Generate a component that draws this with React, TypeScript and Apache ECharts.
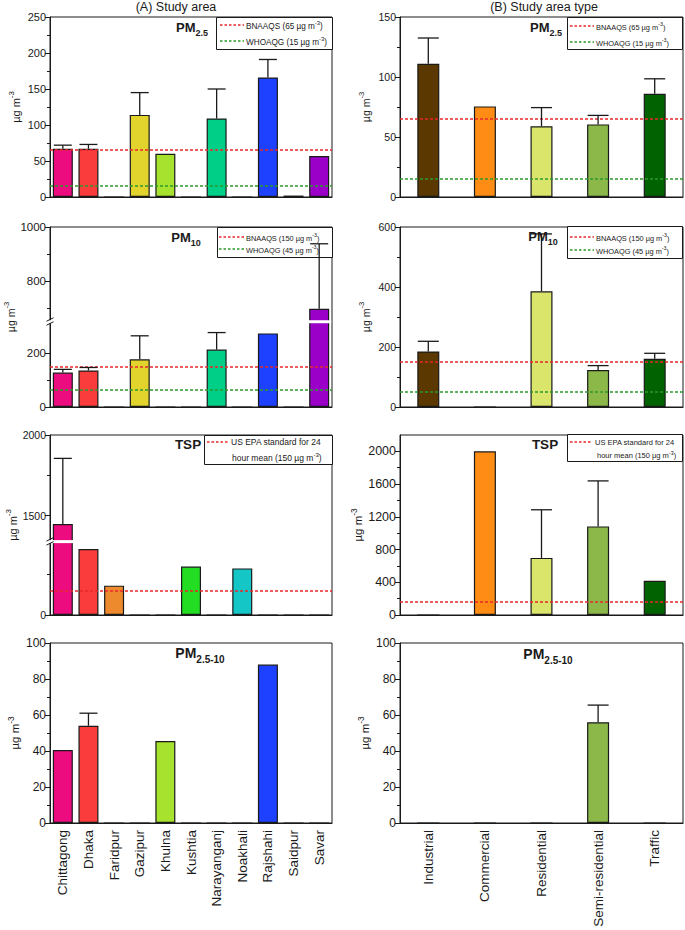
import React, { useEffect, useRef } from 'react';
import * as echarts from 'echarts';

const FONT = "'Liberation Sans', Arial, Helvetica, sans-serif";
const INK = '#1a1a1a';
const RED = '#e8272b';
const GREEN = '#2b9a2b';

// ---------- categories ----------
const cities = ['Chittagong', 'Dhaka', 'Faridpur', 'Gazipur', 'Khulna', 'Kushtia', 'Narayanganj', 'Noakhali', 'Rajshahi', 'Saidpur', 'Savar'];
const areaTypes = ['Industrial', 'Commercial', 'Residential', 'Semi-residential', 'Traffic'];

const cityColors = ['#EC0C80', '#FA3C3C', '#EE8A2E', '#E2D42C', '#A6E22E', '#22DD22', '#00CF88', '#14C6C6', '#1E40FF', '#2A2A2A', '#9A00C8'];
const typeColors = ['#5B3800', '#FF8C14', '#DAE56C', '#8CB84A', '#006200'];

// ---------- (A) study area: means and upper error ----------
const pm25Area = [67, 67, 0, 114, 60, 0, 109, 0, 166, 2, 57];
const pm25AreaErr = [5, 6, null, 31, null, null, 41, null, 25, null, null];
const pm10Area = [127, 135, 0, 176, 0, 0, 212, 0, 272, 0, 698];
const pm10AreaErr = [12, 11, null, 87, null, null, 63, null, null, null, 240];
const tspArea = [1448, 409, 182, 0, 0, 300, 0, 289, 0, 0, 0];
const tspAreaErr = [407, null, null, null, null, null, null, null, null, null, null];
const pmcArea = [40.5, 54, 0, 0, 45.5, 0, 0, 0, 88, 0, 0];
const pmcAreaErr = [null, 7, null, null, null, null, null, null, null, null, null];

// ---------- (B) study area type ----------
const pm25Type = [111, 75.5, 59, 60.5, 86];
const pm25TypeErr = [21.5, null, 15.5, 7.5, 12.5];
const pm10Type = [185, 0, 386, 123, 161];
const pm10TypeErr = [34, null, 191, 15, 18];
const tspType = [0, 2000, 698, 1083, 418];
const tspTypeErr = [null, null, 588, 556, null];
const pmcType = [0, 0, 0, 56, 0];
const pmcTypeErr = [null, null, null, 9.5, null];

// ---------- guideline values (as drawn) ----------
const pm25Guides = [65, 15];
const pm10AreaGuides = [150, 65];
const pm10TypeGuides = [150, 52];
const tspAreaGuides = [150];
const tspTypeGuides = [160];

// ---------- tick labels ----------
const pm25AreaTicks = [0, 50, 100, 150, 200, 250];
const pm25AreaMinor = [25, 75, 125, 175, 225];
const pm10AreaTicks = [0, 200, 800, 1000];
const pm10AreaMinor = [100, 700, 900];
const tspAreaTicks = [0, 1500, 2000];
const tspAreaMinor = [250, 1750];
const pmcTicks = [0, 20, 40, 60, 80, 100];
const pmcMinor = [10, 30, 50, 70, 90];
const pm25TypeTicks = [0, 50, 100, 150];
const pm25TypeMinor = [25, 75, 125];
const pm10TypeTicks = [0, 200, 400, 600];
const pm10TypeMinor = [100, 300, 500];
const tspTypeTicks = [0, 400, 800, 1200, 1600, 2000];
const tspTypeMinor = [200, 600, 1000, 1400, 1800];

type Brk = { lo: number; hi: number } | null;
type Panel = {
  left: number; top: number; width: number; height: number;
  cats: string[]; values: number[]; errs: (number | null)[]; colors: string[];
  max: number; ticks: number[]; minor: number[]; brk: Brk;
  guides: { value: number; color: string }[];
  showLabels: boolean; barWidth: number; capWidth: number; tickFont: number; nameFont: number;
};

const LA = { left: 50, width: 282 };
const LB = { left: 400, width: 283 };
const TOPS = [17, 227, 435, 643];
const H = 180;

const panels: Panel[] = [
  { ...LA, top: TOPS[0], height: H, cats: cities, values: pm25Area, errs: pm25AreaErr, colors: cityColors, max: 250, ticks: pm25AreaTicks, minor: pm25AreaMinor, brk: null, guides: [{ value: pm25Guides[0], color: RED }, { value: pm25Guides[1], color: GREEN }], showLabels: false, barWidth: 20, capWidth: 18, tickFont: 11, nameFont: 11 },
  { ...LB, top: TOPS[0], height: H, cats: areaTypes, values: pm25Type, errs: pm25TypeErr, colors: typeColors, max: 150, ticks: pm25TypeTicks, minor: pm25TypeMinor, brk: null, guides: [{ value: pm25Guides[0], color: RED }, { value: pm25Guides[1], color: GREEN }], showLabels: false, barWidth: 22, capWidth: 21, tickFont: 10.5, nameFont: 10.5 },
  { ...LA, top: TOPS[1], height: H, cats: cities, values: pm10Area, errs: pm10AreaErr, colors: cityColors, max: 1000, ticks: pm10AreaTicks, minor: pm10AreaMinor, brk: { lo: 315, hi: 650 }, guides: [{ value: pm10AreaGuides[0], color: RED }, { value: pm10AreaGuides[1], color: GREEN }], showLabels: false, barWidth: 20, capWidth: 18, tickFont: 11.5, nameFont: 10.5 },
  { ...LB, top: TOPS[1], height: H, cats: areaTypes, values: pm10Type, errs: pm10TypeErr, colors: typeColors, max: 600, ticks: pm10TypeTicks, minor: pm10TypeMinor, brk: null, guides: [{ value: pm10TypeGuides[0], color: RED }, { value: pm10TypeGuides[1], color: GREEN }], showLabels: false, barWidth: 22, capWidth: 21, tickFont: 10.5, nameFont: 10.5 },
  { ...LA, top: TOPS[2], height: H, cats: cities, values: tspArea, errs: tspAreaErr, colors: cityColors, max: 2000, ticks: tspAreaTicks, minor: tspAreaMinor, brk: { lo: 455, hi: 1339 }, guides: [{ value: tspAreaGuides[0], color: RED }], showLabels: false, barWidth: 20, capWidth: 18, tickFont: 10.5, nameFont: 11 },
  { ...LB, top: TOPS[2], height: H, cats: areaTypes, values: tspType, errs: tspTypeErr, colors: typeColors, max: 2200, ticks: tspTypeTicks, minor: tspTypeMinor, brk: null, guides: [{ value: tspTypeGuides[0], color: RED }], showLabels: false, barWidth: 22, capWidth: 21, tickFont: 12.5, nameFont: 11.5 },
  { ...LA, top: TOPS[3], height: H, cats: cities, values: pmcArea, errs: pmcAreaErr, colors: cityColors, max: 100, ticks: pmcTicks, minor: pmcMinor, brk: null, guides: [], showLabels: true, barWidth: 20, capWidth: 18, tickFont: 12, nameFont: 11.5 },
  { ...LB, top: TOPS[3], height: H, cats: areaTypes, values: pmcType, errs: pmcTypeErr, colors: typeColors, max: 100, ticks: pmcTicks, minor: pmcMinor, brk: null, guides: [], showLabels: true, barWidth: 22, capWidth: 21, tickFont: 12, nameFont: 11.5 },
];

function supRich(fs: number, key: 'fill' | 'color') {
  return {
    a: { fontSize: fs, [key]: INK, fontFamily: FONT, verticalAlign: 'bottom' },
    s: { fontSize: Math.round(fs * 0.72 * 10) / 10, [key]: INK, fontFamily: FONT, verticalAlign: 'bottom', padding: [0, 0, Math.round(fs * 0.55), 0] },
  };
}

function legendGraphics() {
  const out: any[] = [];
  const box = (x: number, y: number, w: number, h: number) => out.push({
    type: 'rect', z: 1, shape: { x: x + 0.5, y: y + 0.5, width: w, height: h },
    style: { fill: '#fff', stroke: INK, lineWidth: 1 },
  });
  const sample = (x1: number, x2: number, y: number, color: string) => out.push({
    type: 'line', z: 1, shape: { x1, y1: y, x2, y2: y },
    style: { stroke: color, lineWidth: 1.5, lineDash: [2.5, 2] },
  });
  const txt = (x: number, y: number, text: string, fs: number) => out.push({
    type: 'text', z: 1, x, y,
    style: { text, rich: supRich(fs, 'fill'), align: 'left', verticalAlign: 'middle', fill: INK, fontFamily: FONT, fontSize: fs },
  });
  // A PM2.5
  box(216, 17, 116, 32);
  sample(220, 244, 25, RED); txt(246, 25, '{a|BNAAQS (65 µg m}{s|-3}{a|)}', 8.2);
  sample(220, 244, 41, GREEN); txt(246, 41, '{a|WHOAQG (15 µg m}{s|-3}{a|)}', 8.2);
  // B PM2.5
  box(567, 17, 115, 32);
  sample(570, 594, 26, RED); txt(596, 26, '{a|BNAAQS (65 µg m}{s|-3}{a|)}', 7.4);
  sample(570, 594, 42, GREEN); txt(596, 42, '{a|WHOAQG (15 µg m}{s|-3}{a|)}', 7.4);
  // A PM10
  box(217, 227, 115, 30);
  sample(219, 244, 237, RED); txt(246, 237, '{a|BNAAQS (150 µg m}{s|-3}{a|)}', 7.4);
  sample(219, 244, 249, GREEN); txt(246, 249, '{a|WHOAQG (45 µg m}{s|-3}{a|)}', 7.4);
  // B PM10
  box(567, 226, 115, 32);
  sample(570, 594, 237, RED); txt(596, 237, '{a|BNAAQS (150 µg m}{s|-3}{a|)}', 7.4);
  sample(570, 594, 250, GREEN); txt(596, 250, '{a|WHOAQG (45 µg m}{s|-3}{a|)}', 7.4);
  // A TSP
  box(204, 435, 128, 29);
  sample(207, 229, 442, RED); txt(231, 442, '{a|US EPA standard for 24}', 8.5);
  txt(232, 457, '{a|hour mean (150 µg m}{s|-3}{a|)}', 8.5);
  // B TSP
  box(567, 434, 115, 27);
  sample(570, 592, 442, RED); txt(595, 442, '{a|US EPA standard for 24}', 7.5);
  txt(597, 455, '{a|hour mean (150 µg m}{s|-3}{a|)}', 7.5);
  return out;
}

function titleGraphics() {
  const out: any[] = [];
  const pm = (cx: number, y: number, sub: string, fs: number) => out.push({
    type: 'text', z: 1, x: cx, y,
    style: {
      text: sub ? `{m|PM}{s|${sub}}` : '{m|TSP}',
      align: 'center', verticalAlign: 'top',
      rich: {
        m: { fontSize: fs, fontWeight: 'bold', fill: INK, fontFamily: FONT, verticalAlign: 'top' },
        s: { fontSize: Math.round(fs * 0.7), fontWeight: 'bold', fill: INK, fontFamily: FONT, verticalAlign: 'top', padding: [Math.round(fs * 0.55), 0, 0, 0] },
      },
    },
  });
  pm(192, 21, '2.5', 13);
  pm(546, 21, '2.5', 13);
  pm(186, 231, '10', 13);
  pm(543, 230, '10', 13);
  pm(188, 437, '', 13.5);
  pm(545, 437, '', 13.5);
  pm(200, 646, '2.5-10', 14);
  pm(548, 647, '2.5-10', 14);
  const head = (cx: number, text: string) => out.push({
    type: 'text', x: cx, y: 7,
    style: { text, align: 'center', verticalAlign: 'middle', fill: INK, fontFamily: FONT, fontSize: 12.5 },
  });
  head(176, '(A) Study area');
  head(544, '(B) Study area type');
  return out;
}

function buildOption() {
  const grid: any[] = [];
  const xAxis: any[] = [];
  const yAxis: any[] = [];
  const series: any[] = [];

  panels.forEach((p, i) => {
    const gap = p.brk ? p.brk.hi - p.brk.lo : 0;
    const tf = (v: number) => (!p.brk || v <= p.brk.lo ? v : v - gap);
    const inv = (t: number) => (!p.brk || t <= p.brk.lo + 1e-6 ? t : t + gap);
    const tmax = tf(p.max);

    grid.push({ left: p.left, top: p.top, width: p.width, height: p.height, show: true, borderColor: INK, borderWidth: 1, backgroundColor: 'transparent' });

    xAxis.push({
      type: 'category', gridIndex: i, data: p.cats, boundaryGap: true,
      axisLine: { lineStyle: { color: INK, width: 1 } },
      axisTick: { alignWithLabel: true, length: 5, lineStyle: { color: INK } },
      axisLabel: { show: p.showLabels, rotate: 90, interval: 0, fontSize: 13.5, color: INK, fontFamily: FONT, margin: 7 },
      splitLine: { show: false },
    });

    yAxis.push({
      type: 'value', gridIndex: i, position: 'left', min: 0, max: tmax,
      name: '{a|µg m}{s|-3}', nameLocation: 'middle', nameGap: 29, nameRotate: 90,
      nameTextStyle: { rich: supRich(p.nameFont, 'color') },
      axisLine: { show: true, lineStyle: { color: INK, width: 1 } },
      axisTick: { show: true, length: 5, lineStyle: { color: INK }, customValues: p.ticks.map(tf) },
      axisLabel: { customValues: p.ticks.map(tf), formatter: (v: number) => String(Math.round(inv(v))), fontSize: p.tickFont, color: INK, fontFamily: FONT, margin: 4 },
      splitLine: { show: false },
    });
    yAxis.push({
      type: 'value', gridIndex: i, position: 'left', min: 0, max: tmax,
      axisLine: { show: false },
      axisTick: { show: true, length: 3, lineStyle: { color: INK }, customValues: p.minor.map(tf) },
      axisLabel: { show: false },
      splitLine: { show: false },
    });

    series.push({
      type: 'bar', xAxisIndex: i, yAxisIndex: 2 * i, barWidth: p.barWidth, z: 2,
      data: p.values.map((v, j) => ({ value: tf(v), itemStyle: { color: p.colors[j] } })),
      itemStyle: { borderColor: INK, borderWidth: 1.2 },
      markLine: {
        silent: true, symbol: ['none', 'none'], label: { show: false },
        data: p.guides.map((g) => ({ yAxis: tf(g.value), lineStyle: { color: g.color, type: [3, 2], width: 1.5 } })),
      },
    });

    const errData: number[][] = [];
    p.values.forEach((v, j) => {
      const e = p.errs[j];
      if (e != null) errData.push([j, tf(v), tf(v + e)]);
    });
    series.push({
      type: 'custom', xAxisIndex: i, yAxisIndex: 2 * i, z: 5, data: errData,
      renderItem: (params: any, api: any) => {
        const x = api.value(0);
        const a = api.coord([x, api.value(1)]);
        const b = api.coord([x, api.value(2)]);
        const hw = p.capWidth / 2;
        return {
          type: 'group', children: [
            { type: 'line', shape: { x1: a[0], y1: a[1], x2: b[0], y2: b[1] }, style: { stroke: INK, lineWidth: 1.3 } },
            { type: 'line', shape: { x1: b[0] - hw, y1: b[1], x2: b[0] + hw, y2: b[1] }, style: { stroke: INK, lineWidth: 1.3 } },
          ],
        };
      },
    });

    if (p.brk) {
      const brkData: number[][] = [];
      p.values.forEach((v, j) => { if (v > p.brk!.lo) brkData.push([j, p.brk!.lo]); });
      series.push({
        type: 'custom', xAxisIndex: i, yAxisIndex: 2 * i, z: 6, data: brkData,
        renderItem: (params: any, api: any) => {
          const c = api.coord([api.value(0), api.value(1)]);
          const cs = params.coordSys;
          const children: any[] = [
            { type: 'rect', shape: { x: c[0] - p.barWidth / 2 - 2, y: c[1] - 1.5, width: p.barWidth + 4, height: 3 }, style: { fill: '#fff' } },
          ];
          if (params.dataIndex === 0) {
            const ax = cs.x;
            const y = c[1];
            children.push({ type: 'rect', shape: { x: ax - 2, y: y - 1.5, width: 4, height: 3 }, style: { fill: '#fff' } });
            children.push({ type: 'line', shape: { x1: ax - 3.5, y1: y - 0.5, x2: ax + 3.5, y2: y - 4 }, style: { stroke: INK, lineWidth: 1 } });
            children.push({ type: 'line', shape: { x1: ax - 3.5, y1: y + 3.5, x2: ax + 3.5, y2: y }, style: { stroke: INK, lineWidth: 1 } });
          }
          return { type: 'group', children };
        },
      });
    }
  });

  return {
    animation: false,
    backgroundColor: '#fff',
    textStyle: { fontFamily: FONT },
    grid, xAxis, yAxis, series,
    graphic: [...legendGraphics(), ...titleGraphics()],
  };
}

function App() {
  const ref = useRef<HTMLDivElement>(null);
  useEffect(() => {
    const chart = echarts.init(ref.current as HTMLDivElement, null, { renderer: 'svg' });
    chart.setOption(buildOption() as any);
    return () => chart.dispose();
  }, []);
  return <div ref={ref} style={{ position: 'fixed', left: 0, top: 0, width: 685, height: 930 }} />;
}

export default App;
